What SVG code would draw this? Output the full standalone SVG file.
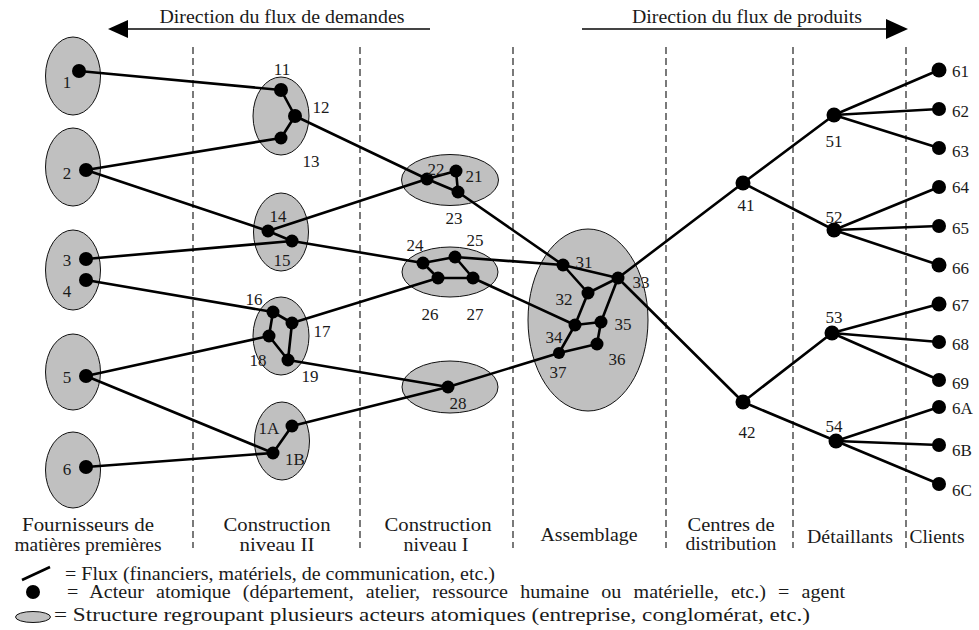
<svg xmlns="http://www.w3.org/2000/svg" width="979" height="630" viewBox="0 0 979 630">
<style>
text{font-family:"Liberation Serif","Times New Roman",serif;fill:#1a1a1a}
.l{font-size:17px;text-anchor:middle}
.ls{font-size:17px;text-anchor:start}
.c{font-size:18px;text-anchor:middle}
.g{font-size:18px;text-anchor:start}
.ell{fill:#c0c0c0;stroke:#111;stroke-width:1}
.n{fill:#000}
.e line{stroke:#000;stroke-width:2.6;stroke-linecap:round}
.d line{stroke:#333;stroke-width:1.3;stroke-dasharray:7 4}
.ar{stroke:#444;stroke-width:1.8}
.arh{fill:#000}
</style>

<!-- column separators -->
<g class="d" id="separators">
<line x1="193" y1="47" x2="193" y2="548"/>
<line x1="360" y1="47" x2="360" y2="548"/>
<line x1="513" y1="47" x2="513" y2="548"/>
<line x1="666" y1="47" x2="666" y2="548"/>
<line x1="793" y1="47" x2="793" y2="548"/>
<line x1="906" y1="47" x2="906" y2="548"/>
</g>

<!-- flow direction arrows -->
<g id="dir-demandes">
<text class="c" x="282" y="23" textLength="245" lengthAdjust="spacingAndGlyphs">Direction du flux de demandes</text>
<line class="ar" x1="126" y1="29" x2="430" y2="29"/>
<polygon class="arh" points="108,29 128,20 128,38"/>
</g>
<g id="dir-produits">
<text class="c" x="747" y="23" textLength="230" lengthAdjust="spacingAndGlyphs">Direction du flux de produits</text>
<line class="ar" x1="582" y1="29" x2="888" y2="29"/>
<polygon class="arh" points="908,29 886,19 886,39"/>
</g>

<!-- structures (ellipses) -->
<g id="structures">
<g id="s1"><ellipse class="ell" cx="73" cy="76" rx="27.5" ry="39"/></g>
<g id="s2"><ellipse class="ell" cx="73" cy="167" rx="27.5" ry="39"/></g>
<g id="s34"><ellipse class="ell" cx="73" cy="270" rx="27.5" ry="40"/></g>
<g id="s5"><ellipse class="ell" cx="73" cy="372" rx="27.5" ry="38"/></g>
<g id="s6"><ellipse class="ell" cx="73" cy="470" rx="27.5" ry="38"/></g>
<g id="s11"><ellipse class="ell" cx="281" cy="116" rx="28" ry="39"/></g>
<g id="s14"><ellipse class="ell" cx="281" cy="232" rx="27.5" ry="39"/></g>
<g id="s16"><ellipse class="ell" cx="281" cy="336" rx="28" ry="39"/></g>
<g id="s1A"><ellipse class="ell" cx="282" cy="441" rx="27.5" ry="39"/></g>
<g id="s21"><ellipse class="ell" cx="450" cy="180" rx="48.5" ry="25.5"/></g>
<g id="s24"><ellipse class="ell" cx="450" cy="272" rx="48" ry="25"/></g>
<g id="s28"><ellipse class="ell" cx="450" cy="387" rx="48" ry="26"/></g>
<g id="s31"><ellipse class="ell" cx="588" cy="320" rx="60" ry="91"/></g>
</g>

<!-- connectors -->
<g class="e" id="connectors">
<line x1="79" y1="71" x2="281" y2="90"/>
<line x1="281" y1="90" x2="295" y2="116"/>
<line x1="295" y1="116" x2="281" y2="138"/>
<line x1="86" y1="170" x2="281" y2="138"/>
<line x1="86" y1="170" x2="268" y2="231"/>
<line x1="268" y1="231" x2="292" y2="241"/>
<line x1="86" y1="259" x2="292" y2="241"/>
<line x1="86" y1="280" x2="273" y2="312"/>
<line x1="273" y1="312" x2="292" y2="323"/>
<line x1="273" y1="312" x2="269" y2="336"/>
<line x1="292" y1="323" x2="288" y2="360"/>
<line x1="269" y1="336" x2="288" y2="360"/>
<line x1="86" y1="376" x2="269" y2="336"/>
<line x1="86" y1="376" x2="273" y2="453"/>
<line x1="86" y1="467" x2="273" y2="453"/>
<line x1="292" y1="426" x2="273" y2="453"/>
<line x1="295" y1="116" x2="427" y2="179"/>
<line x1="268" y1="231" x2="427" y2="179"/>
<line x1="427" y1="179" x2="456" y2="171"/>
<line x1="456" y1="171" x2="458" y2="192"/>
<line x1="427" y1="179" x2="458" y2="192"/>
<line x1="292" y1="241" x2="423" y2="263"/>
<line x1="423" y1="263" x2="455" y2="257"/>
<line x1="423" y1="263" x2="438" y2="278"/>
<line x1="455" y1="257" x2="473" y2="278"/>
<line x1="438" y1="278" x2="473" y2="278"/>
<line x1="292" y1="323" x2="438" y2="278"/>
<line x1="288" y1="360" x2="448" y2="387"/>
<line x1="292" y1="426" x2="448" y2="387"/>
<line x1="458" y1="192" x2="563" y2="265"/>
<line x1="455" y1="257" x2="563" y2="265"/>
<line x1="473" y1="278" x2="575" y2="325"/>
<line x1="448" y1="387" x2="559" y2="353"/>
<line x1="563" y1="265" x2="618" y2="278"/>
<line x1="563" y1="265" x2="588" y2="293"/>
<line x1="588" y1="293" x2="618" y2="278"/>
<line x1="618" y1="278" x2="601" y2="322"/>
<line x1="588" y1="293" x2="575" y2="325"/>
<line x1="575" y1="325" x2="601" y2="322"/>
<line x1="601" y1="322" x2="597" y2="344"/>
<line x1="575" y1="325" x2="559" y2="353"/>
<line x1="559" y1="353" x2="597" y2="344"/>
<line x1="618" y1="278" x2="743" y2="183"/>
<line x1="618" y1="278" x2="743" y2="402"/>
<line x1="743" y1="183" x2="834" y2="115"/>
<line x1="743" y1="183" x2="834" y2="230"/>
<line x1="743" y1="402" x2="832" y2="333"/>
<line x1="743" y1="402" x2="836" y2="441"/>
<line x1="834" y1="115" x2="939" y2="70"/>
<line x1="834" y1="115" x2="939" y2="109"/>
<line x1="834" y1="115" x2="939" y2="148"/>
<line x1="834" y1="230" x2="939" y2="187"/>
<line x1="834" y1="230" x2="939" y2="226"/>
<line x1="834" y1="230" x2="939" y2="265"/>
<line x1="832" y1="333" x2="939" y2="304"/>
<line x1="832" y1="333" x2="939" y2="342"/>
<line x1="832" y1="333" x2="939" y2="380"/>
<line x1="836" y1="441" x2="939" y2="407"/>
<line x1="836" y1="441" x2="939" y2="445"/>
<line x1="836" y1="441" x2="939" y2="484"/>
</g>

<!-- actors -->
<g id="n1"><circle class="n" cx="79" cy="71" r="7"/><text class="l" x="67" y="88">1</text></g>
<g id="n2"><circle class="n" cx="86" cy="170" r="7"/><text class="l" x="67" y="179">2</text></g>
<g id="n3"><circle class="n" cx="86" cy="259" r="7"/><text class="l" x="67" y="266">3</text></g>
<g id="n4"><circle class="n" cx="86" cy="280" r="7"/><text class="l" x="67" y="297">4</text></g>
<g id="n5"><circle class="n" cx="86" cy="376" r="7"/><text class="l" x="67" y="383">5</text></g>
<g id="n6"><circle class="n" cx="86" cy="467" r="7"/><text class="l" x="67" y="475">6</text></g>
<g id="n11"><circle class="n" cx="281" cy="90" r="7"/><text class="l" x="282" y="75">11</text></g>
<g id="n12"><circle class="n" cx="295" cy="116" r="7"/><text class="l" x="321" y="113">12</text></g>
<g id="n13"><circle class="n" cx="281" cy="138" r="6.5"/><text class="l" x="311" y="167">13</text></g>
<g id="n14"><circle class="n" cx="268" cy="231" r="6.5"/><text class="l" x="278" y="222">14</text></g>
<g id="n15"><circle class="n" cx="292" cy="241" r="6.5"/><text class="l" x="282" y="266">15</text></g>
<g id="n16"><circle class="n" cx="273" cy="312" r="6.5"/><text class="l" x="254" y="305">16</text></g>
<g id="n17"><circle class="n" cx="292" cy="323" r="6.5"/><text class="l" x="322" y="337">17</text></g>
<g id="n18"><circle class="n" cx="269" cy="336" r="6.5"/><text class="l" x="258" y="366">18</text></g>
<g id="n19"><circle class="n" cx="288" cy="360" r="6.5"/><text class="l" x="310" y="382">19</text></g>
<g id="n1A"><circle class="n" cx="292" cy="426" r="6.5"/><text class="l" x="269" y="434">1A</text></g>
<g id="n1B"><circle class="n" cx="273" cy="453" r="6.5"/><text class="l" x="295" y="465">1B</text></g>
<g id="n21"><circle class="n" cx="456" cy="171" r="6.5"/><text class="l" x="474" y="182">21</text></g>
<g id="n22"><circle class="n" cx="427" cy="179" r="6.5"/><text class="l" x="436" y="175">22</text></g>
<g id="n23"><circle class="n" cx="458" cy="192" r="6.5"/><text class="l" x="454" y="224">23</text></g>
<g id="n24"><circle class="n" cx="423" cy="263" r="6.5"/><text class="l" x="415" y="251">24</text></g>
<g id="n25"><circle class="n" cx="455" cy="257" r="6.5"/><text class="l" x="475" y="246">25</text></g>
<g id="n26"><circle class="n" cx="438" cy="278" r="6.5"/><text class="l" x="430" y="320">26</text></g>
<g id="n27"><circle class="n" cx="473" cy="278" r="6.5"/><text class="l" x="475" y="320">27</text></g>
<g id="n28"><circle class="n" cx="448" cy="387" r="6.5"/><text class="l" x="458" y="409">28</text></g>
<g id="n31"><circle class="n" cx="563" cy="265" r="6.5"/><text class="l" x="584" y="268">31</text></g>
<g id="n32"><circle class="n" cx="588" cy="293" r="6.5"/><text class="l" x="564" y="305">32</text></g>
<g id="n33"><circle class="n" cx="618" cy="278" r="6.5"/><text class="l" x="641" y="288">33</text></g>
<g id="n34"><circle class="n" cx="575" cy="325" r="6.5"/><text class="l" x="554" y="343">34</text></g>
<g id="n35"><circle class="n" cx="601" cy="322" r="6.5"/><text class="l" x="623" y="330">35</text></g>
<g id="n36"><circle class="n" cx="597" cy="344" r="6.5"/><text class="l" x="617" y="365">36</text></g>
<g id="n37"><circle class="n" cx="559" cy="353" r="6"/><text class="l" x="558" y="378">37</text></g>
<g id="n41"><circle class="n" cx="743" cy="183" r="7.5"/><text class="l" x="746" y="211">41</text></g>
<g id="n42"><circle class="n" cx="743" cy="402" r="7.5"/><text class="l" x="747" y="438">42</text></g>
<g id="n51"><circle class="n" cx="834" cy="115" r="7.5"/><text class="l" x="834" y="147">51</text></g>
<g id="n52"><circle class="n" cx="834" cy="230" r="7.5"/><text class="l" x="834" y="223">52</text></g>
<g id="n53"><circle class="n" cx="832" cy="333" r="7.5"/><text class="l" x="834" y="323">53</text></g>
<g id="n54"><circle class="n" cx="836" cy="441" r="7.5"/><text class="l" x="834" y="432">54</text></g>
<g id="n61"><circle class="n" cx="939" cy="70" r="7.5"/><text class="ls" x="952" y="77">61</text></g>
<g id="n62"><circle class="n" cx="939" cy="109" r="7"/><text class="ls" x="952" y="117">62</text></g>
<g id="n63"><circle class="n" cx="939" cy="148" r="7"/><text class="ls" x="952" y="157">63</text></g>
<g id="n64"><circle class="n" cx="939" cy="187" r="7"/><text class="ls" x="952" y="193">64</text></g>
<g id="n65"><circle class="n" cx="939" cy="226" r="7"/><text class="ls" x="952" y="234">65</text></g>
<g id="n66"><circle class="n" cx="939" cy="265" r="7.5"/><text class="ls" x="952" y="274">66</text></g>
<g id="n67"><circle class="n" cx="939" cy="304" r="7.5"/><text class="ls" x="952" y="311">67</text></g>
<g id="n68"><circle class="n" cx="939" cy="342" r="7"/><text class="ls" x="952" y="350">68</text></g>
<g id="n69"><circle class="n" cx="939" cy="380" r="7"/><text class="ls" x="952" y="389">69</text></g>
<g id="n6A"><circle class="n" cx="939" cy="407" r="7"/><text class="ls" x="952" y="414">6A</text></g>
<g id="n6B"><circle class="n" cx="939" cy="445" r="7"/><text class="ls" x="952" y="456">6B</text></g>
<g id="n6C"><circle class="n" cx="939" cy="484" r="7"/><text class="ls" x="952" y="496">6C</text></g>

<!-- column labels -->
<g id="col-labels">
<text class="c" x="88" y="531" textLength="132" lengthAdjust="spacingAndGlyphs">Fournisseurs de</text>
<text class="c" x="88" y="551" textLength="147" lengthAdjust="spacingAndGlyphs">matières premières</text>
<text class="c" x="277" y="531" textLength="107" lengthAdjust="spacingAndGlyphs">Construction</text>
<text class="c" x="277" y="551" textLength="75" lengthAdjust="spacingAndGlyphs">niveau II</text>
<text class="c" x="438" y="531" textLength="107" lengthAdjust="spacingAndGlyphs">Construction</text>
<text class="c" x="436" y="551" textLength="65" lengthAdjust="spacingAndGlyphs">niveau I</text>
<text class="c" x="589" y="541" textLength="97" lengthAdjust="spacingAndGlyphs">Assemblage</text>
<text class="c" x="731" y="531" textLength="87" lengthAdjust="spacingAndGlyphs">Centres de</text>
<text class="c" x="731" y="550" textLength="91" lengthAdjust="spacingAndGlyphs">distribution</text>
<text class="c" x="850" y="543" textLength="86" lengthAdjust="spacingAndGlyphs">Détaillants</text>
<text class="c" x="937" y="543" textLength="55" lengthAdjust="spacingAndGlyphs">Clients</text>
</g>

<!-- legend -->
<g id="legend">
<line x1="22" y1="580" x2="50" y2="567" stroke="#000" stroke-width="2.6"/>
<text class="g" x="65" y="580" textLength="430" lengthAdjust="spacingAndGlyphs">= Flux (financiers, matériels, de communication, etc.)</text>
<circle class="n" cx="33" cy="592" r="7"/>
<text class="g" x="67" y="598" textLength="778" lengthAdjust="spacingAndGlyphs" word-spacing="6.4">= Acteur atomique (département, atelier, ressource humaine ou matérielle, etc.) = agent</text>
<ellipse class="ell" cx="33" cy="617" rx="17.5" ry="5.5"/>
<text class="g" x="54" y="621" textLength="756" lengthAdjust="spacingAndGlyphs">= Structure regroupant plusieurs acteurs atomiques (entreprise, conglomérat, etc.)</text>
</g>
</svg>
